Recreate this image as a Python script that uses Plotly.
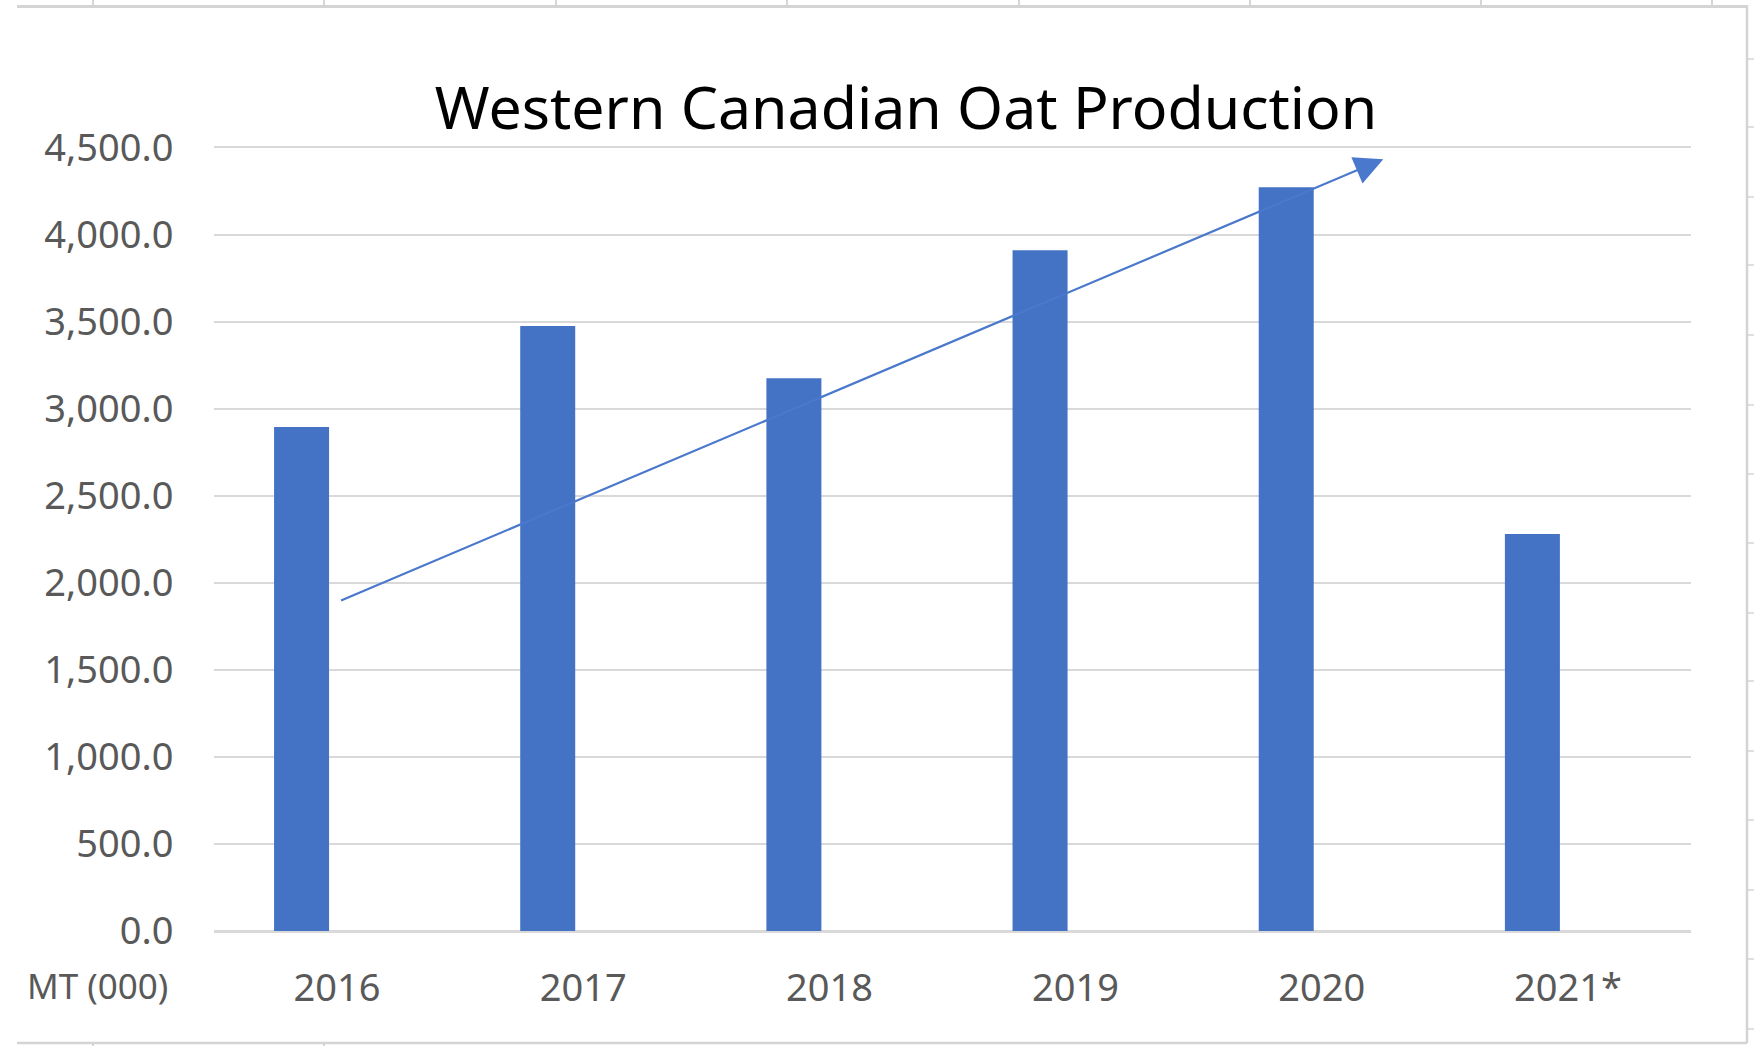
import plotly.graph_objects as go

# ---- data ----
years = ["2016", "2017", "2018", "2019", "2020", "2021*"]
production = [2894, 3474, 3175, 3910, 4272, 2280]  # MT (000)
y_ticks = [0, 500, 1000, 1500, 2000, 2500, 3000, 3500, 4000, 4500]
trend_start = (0.01, 1895)
trend_end = (4.25, 4433)

W, H = 1754, 1046
L, R, T, B = 214, 1691, 144, 931
Y_MAX = 4520


def xp(px):
    return (px - L) / (R - L)


def yp(py):
    return (B - py) / (B - T)


FONT = "Noto Sans"
GRID = "#D9D9D9"
TXT = "#595959"
BAR = "#4472C4"

fig = go.Figure()
fig.add_trace(go.Bar(
    x=years, y=production,
    marker=dict(color=BAR, line=dict(width=0)),
    width=0.2234, offset=-0.256,
    showlegend=False, hoverinfo="x+y",
))

fig.update_layout(
    width=W, height=H,
    margin=dict(l=L, r=W - R, t=T, b=H - B, pad=0),
    paper_bgcolor="white", plot_bgcolor="white",
    font=dict(family=FONT, color=TXT, size=36),
    title=dict(
        text="Western Canadian Oat Production",
        font=dict(family=FONT, size=59, color="#000000"),
        x=906 / W, xanchor="center",
        y=1 - 108 / H, yanchor="middle", xref="container", yref="container",
    ),
    xaxis=dict(
        type="category", range=[-0.5, 5.5],
        showgrid=False, showline=False, zeroline=False,
        ticks="outside", ticklen=23, tickcolor="rgba(0,0,0,0)",
        tickfont=dict(family=FONT, size=38, color=TXT),
    ),
    yaxis=dict(
        range=[0, Y_MAX], tickvals=y_ticks, tickformat=",.1f",
        showgrid=True, gridcolor=GRID, gridwidth=2,
        zeroline=True, zerolinecolor=GRID, zerolinewidth=3,
        showline=False,
        ticks="outside", ticklen=32, tickcolor="rgba(0,0,0,0)",
        tickfont=dict(family=FONT, size=38, color=TXT),
    ),
)

# trend arrow drawn on the chart
fig.add_annotation(
    x=trend_end[0], y=trend_end[1], xref="x", yref="y",
    ax=trend_start[0], ay=trend_start[1], axref="x", ayref="y",
    text="", showarrow=True, arrowhead=2, arrowsize=2.6, arrowwidth=2.2,
    arrowcolor="#4A78CC", standoff=0,
)

# unit label
fig.add_annotation(
    text="MT (000)", xref="paper", yref="paper",
    x=xp(25), y=yp(985), xanchor="left", yanchor="middle",
    showarrow=False, font=dict(family=FONT, size=35, color=TXT),
)

# chart frame and spreadsheet cell lines peeking out
shapes = []
FR = "#D4D4D4"
shapes.append(dict(type="line", xref="paper", yref="paper",
                   x0=xp(17), x1=xp(1747), y0=yp(6.5), y1=yp(6.5),
                   line=dict(color=FR, width=3)))
shapes.append(dict(type="line", xref="paper", yref="paper",
                   x0=xp(1747), x1=xp(1747), y0=yp(5), y1=yp(1043),
                   line=dict(color=FR, width=2.5)))
shapes.append(dict(type="line", xref="paper", yref="paper",
                   x0=xp(17), x1=xp(1747), y0=yp(1043), y1=yp(1043),
                   line=dict(color=FR, width=2.5)))
for cx in [93, 324, 556, 787, 1019, 1250, 1481, 1712]:
    shapes.append(dict(type="line", xref="paper", yref="paper",
                       x0=xp(cx), x1=xp(cx), y0=yp(0), y1=yp(5),
                       line=dict(color="#C8C8C8", width=1.5)))
for cx in [93, 324]:
    shapes.append(dict(type="line", xref="paper", yref="paper",
                       x0=xp(cx), x1=xp(cx), y0=yp(1044), y1=yp(1046),
                       line=dict(color="#C8C8C8", width=1.5)))
for ry in [59, 127, 197, 265, 335, 405, 474, 543, 613, 681, 751, 820, 890, 959, 1029]:
    shapes.append(dict(type="line", xref="paper", yref="paper",
                       x0=xp(1748), x1=xp(1754), y0=yp(ry), y1=yp(ry),
                       line=dict(color="#D4D4D4", width=1.5)))
fig.update_layout(shapes=shapes)

fig.write_html(
    "out.html",
    config={"displayModeBar": False},
    post_script="document.body.style.margin='0';document.body.style.overflow='hidden';",
)
